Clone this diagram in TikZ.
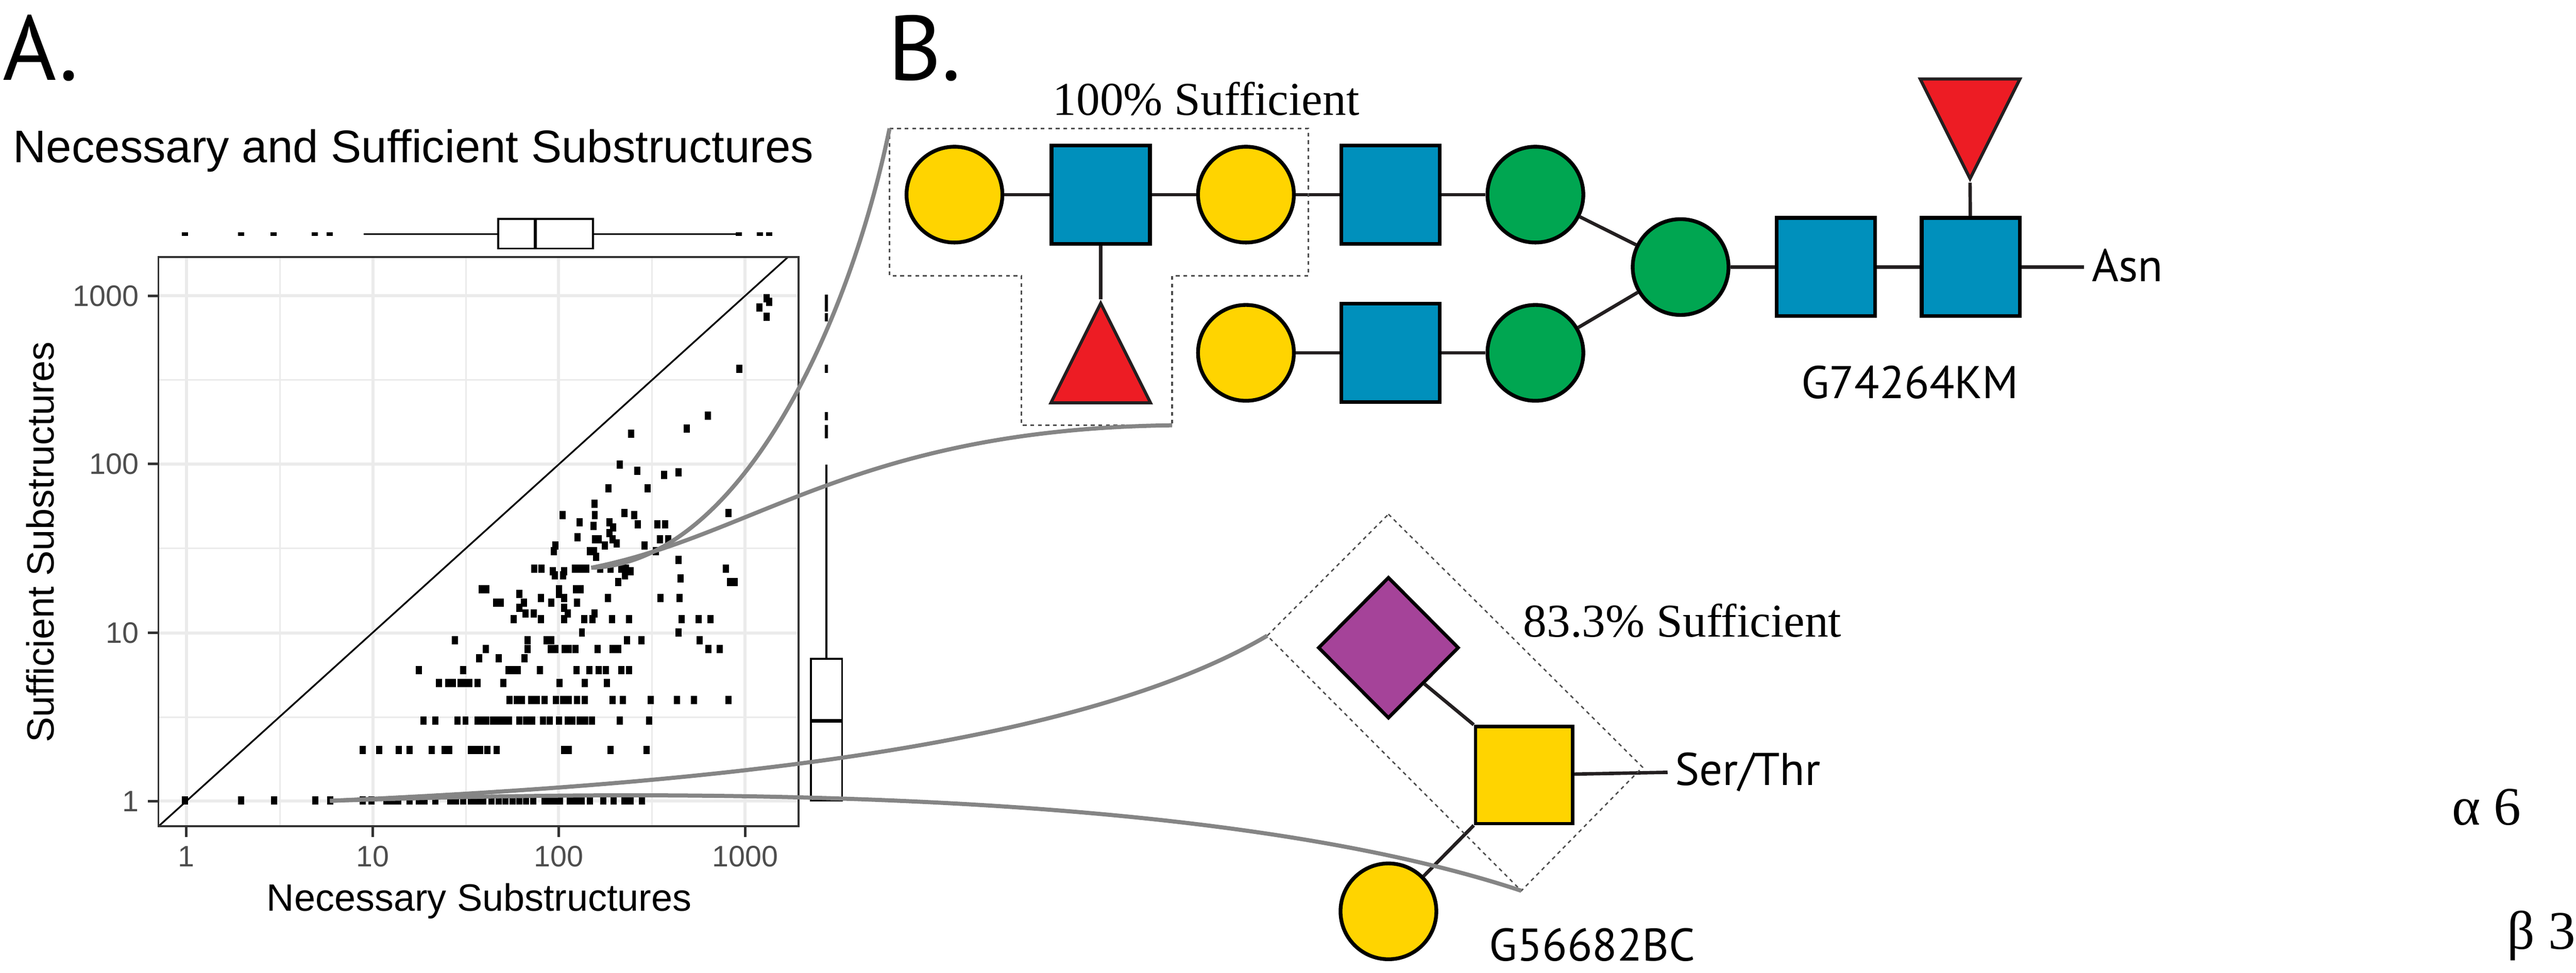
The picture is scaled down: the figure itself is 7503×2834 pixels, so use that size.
\documentclass[tikz,border=0pt]{standalone}
\usepackage{fontspec}
\setmainfont{Liberation Serif}
\newfontfamily\plotfont{Liberation Sans}
\newfontfamily\glyfont{PT Sans}
\usetikzlibrary{shapes.geometric}
\definecolor{glyyellow}{HTML}{FFD400}
\definecolor{glyblue}{HTML}{0090BC}
\definecolor{glygreen}{HTML}{00A651}
\definecolor{glyred}{HTML}{ED1C24}
\definecolor{glypurple}{HTML}{A54399}
\definecolor{glyline}{HTML}{231F20}
\definecolor{gridgray}{HTML}{EBEBEB}
\definecolor{panelgray}{HTML}{333333}
\definecolor{ticktext}{HTML}{4D4D4D}
\definecolor{zoomgray}{HTML}{858585}
\tikzset{
	x=0.01cm, y=-0.01cm,
	residue/.style={draw=black, line width=0.11cm, inner sep=0pt},
	gal/.style={residue, circle, fill=glyyellow, minimum size=2.79cm},
	man/.style={residue, circle, fill=glygreen, minimum size=2.79cm},
	glcnac/.style={residue, rectangle, fill=glyblue, minimum size=2.86cm},
	galnac/.style={residue, rectangle, fill=glyyellow, minimum size=2.83cm, line width=0.1cm},
	neuac/.style={residue, diamond, fill=glypurple, minimum width=4.1cm, minimum height=4.12cm, line width=0.1cm},
	fuc/.style={residue, draw=glyline, isosceles triangle, isosceles triangle stretches, fill=glyred, minimum width=2.9cm, minimum height=2.9cm, line width=0.09cm},
	bond/.style={line width=0.1cm, draw=glyline},
	subframe/.style={draw=ticktext, line width=0.05cm, dash pattern=on 0.11cm off 0.11cm},
	zoomcurve/.style={draw=zoomgray, line width=0.12cm},
	boxline/.style={draw=black, line width=0.05cm},
	gridmajor/.style={draw=gridgray, line width=0.09cm},
	gridminor/.style={draw=gridgray, line width=0.045cm},
	axistick/.style={draw=panelgray, line width=0.075cm},
	ticklabel/.style={inner sep=0pt, text=ticktext, font=\plotfont\fontsize{24.5pt}{24.5pt}\selectfont},
	axislabel/.style={inner sep=0pt, font=\plotfont\fontsize{31.5pt}{31.5pt}\selectfont},
	panellabel/.style={inner sep=0pt, anchor=base west, font=\glyfont\fontsize{76pt}{76pt}\selectfont},
	glylabel/.style={inner sep=0pt, anchor=base west, font=\glyfont\fontsize{38pt}{38pt}\selectfont},
	suflabel/.style={inner sep=0pt, anchor=base west, font=\fontsize{39pt}{39pt}\selectfont},
	linklabel/.style={inner sep=0pt, anchor=base west, font=\fontsize{45pt}{45pt}\selectfont}
}

\begin{document}
\begin{tikzpicture}
	\useasboundingbox (0,0) rectangle (7503,2834);

	%%%%% scatter panel %%%%%
	\foreach \gx in {815,1357,1899} \draw[gridminor] (\gx,749) -- (\gx,2407);
	\foreach \gy in {1107,1598,2089} \draw[gridminor] (461,\gy) -- (2326,\gy);
	\foreach \gx in {543,1086,1627,2170} \draw[gridmajor] (\gx,749) -- (\gx,2407);
	\foreach \gy in {862,1352,1844,2334} \draw[gridmajor] (461,\gy) -- (2326,\gy);

	\begin{scope}[shift={(400,700)},x=0.01339cm,y=-0.01084cm]
		\foreach \py/\pxs in {
			1506/{104,226,297,387,419,490,509,541,553,567,592,612,624,648,680,692,708,725,738,752,770,785,800,815,830,845,860,885,897,910,918,940,952,965,983,1012,1035,1058,1072,1096},
			1370/{490,526,568,592,640,668,678,725,735,745,761,781,927,937,1028,1106},
			1291/{622,648,696,713,739,750,758,773,785,795,808,830,845,858,882,896,916,935,945,961,973,988,1048,1112},
			1235/{809,824,836,856,868,885,909,925,938,955,972,1033,1055,1115,1173,1210,1285},
			1190/{655,676,686,702,712,721,739,795,917,972,1020},
			1155/{612,708,806,815,827,875,954,982,1002,1018,1052,1068},
			1124/{743,785,841},
			1099/{757,848,898,908,928,938,952,1000,1033,1045,1241,1265},
			1075/{690,848,889,899,1064,1095,1222},
			1054/{966,1176},
			1018/{818,877,927,971,989,1031,1068,1183,1220,1245},
			1003/{843,861,935,993},
			988/{830,927},
			974/{780,790,840,899,955},
			962/{877,927,1023,1137,1178},
			950/{830,916},
			938/{748,758,916,953,963},
			918/{1045,1288,1298},
			909/{1180},
			900/{907,925,1060},
			890/{903,927,1072},
			882/{862,878,951,963,976,1006,1028,1052,1062,1279},
			859/{1176},
			851/{997},
			835/{905,983,992,1127},
			820/{908,1016,1102},
			815/{1042},
			804/{1033,995,1002,1136,1153},
			798/{956},
			787/{1026},
			772/{1034},
			768/{991},
			763/{1087,1130,1147},
			758/{961,1026},
			738/{924,994,1080},
			733/{1058,1285},
			708/{993},
			666/{1024,1109},
			630/{1145},
			624/{1176},
			620/{1086},
			603/{1048},
			520/{1073},
			506/{1194},
			471/{1240},
			345/{1308},
			206/{1367},
			181/{1352},
			165/{1373},
			156/{1367}}
			\foreach \px in \pxs
				\fill ({\px-6.7},{\py-11}) rectangle ++(13.4,22);
	\end{scope}

	\draw[line width=0.05cm] (462,2407) -- (2295,749);

	\foreach \tx/\tlab in {543/1,1086/10,1627/100,2170/1000}{
		\draw[axistick] (\tx,2407) -- (\tx,2438);
		\node[ticklabel, anchor=base] (xtick\tlab) at (\tx,2524) {\tlab};
	}
	\foreach \ty/\tlab in {862/1000,1352/100,1844/10,2334/1}{
		\draw[axistick] (430,\ty) -- (461,\ty);
		\node[ticklabel, anchor=east] (ytick\tlab) at (405,\ty) {\tlab};
	}
	\draw[draw=panelgray, line width=0.05cm] (461,749) rectangle (2326,2407);

	\node[axislabel, anchor=base] (xtitle) at (1396,2654) {Necessary Substructures};
	\node[axislabel, anchor=base, rotate=90] (ytitle) at (157,1579) {Sufficient Substructures};
	\node[inner sep=0pt, anchor=base west, font=\plotfont\fontsize{37.9pt}{37.9pt}\selectfont] (plottitle) at (38,474) {Necessary and Sufficient Substructures};

	%%%%% marginal boxplots %%%%%
	\draw[boxline] (1060,682) -- (1451,682);
	\draw[boxline] (1727,682) -- (2144,682);
	\draw[boxline] (1451,638) rectangle (1727,724);
	\draw[line width=0.1cm] (1559,638) -- (1559,724);
	\foreach \ox in {539,703,797,917,960,2152,2213,2240}
		\fill ({\ox-9},677) rectangle ++(18,10);

	\draw[boxline] (2407,1354) -- (2407,2333);
	\draw[boxline, fill=white] (2362,1919) rectangle (2453,2333);
	\draw[line width=0.1cm] (2362,2100) -- (2453,2100);
	\foreach \oa/\ob in {858/908,912/936,1062/1087,1200/1224,1238/1277}
		\fill (2403,\oa) rectangle (2411,\ob);

	%%%%% glycan one %%%%%
	\node[gal] (g1) at (2780,567) {};
	\node[glcnac] (n1) at (3206,567) {};
	\node[gal] (g2) at (3629,567) {};
	\node[glcnac] (n2) at (4050,567) {};
	\node[man] (m1) at (4472,567) {};
	\node[fuc, shape border rotate=90] (f1) at (3206,1084) {};
	\node[gal] (g3) at (3629,1028) {};
	\node[glcnac] (n3) at (4050,1028) {};
	\node[man] (m2) at (4472,1028) {};
	\node[man] (m3) at (4895,778) {};
	\node[glcnac] (n4) at (5318,778) {};
	\node[glcnac] (n5) at (5740,778) {};
	\node[fuc, shape border rotate=270] (f2) at (5738,320) {};
	\coordinate (asnend) at (6070,778);

	\draw[bond] (g1) -- (n1);
	\draw[bond] (n1) -- (g2);
	\draw[bond] (g2) -- (n2);
	\draw[bond] (n2) -- (m1);
	\draw[bond] (n1) -- (f1.apex);
	\draw[bond] (g3) -- (n3);
	\draw[bond] (n3) -- (m2);
	\draw[bond] (m1) -- (m3);
	\draw[bond] (m2) -- (m3);
	\draw[bond] (m3) -- (n4);
	\draw[bond] (n4) -- (n5);
	\draw[bond] (n5) -- (f2.apex);
	\draw[bond] (n5) -- (asnend);

	\node[glylabel] (asn) at (6092,820) {Asn};
	\node[glylabel] (gid1) at (5246,1160) {G74264KM};
	\node[suflabel] (suf1) at (3066,336) {100\% Sufficient};

	\coordinate (fr1a) at (2591,374);
	\coordinate (fr1b) at (3414,1239);
	\draw[subframe] (fr1a) -- (3811,374) -- (3811,804) -- (3414,804) -- (fr1b) -- (2975,1239) -- (2975,804) -- (2591,804) -- cycle;

	%%%%% glycan two %%%%%
	\node[neuac] (s1) at (4044,1887) {};
	\node[galnac] (t1) at (4439,2258) {};
	\node[gal] (g4) at (4044,2655) {};
	\coordinate (serend) at (4857,2250);

	\draw[bond] (s1.south east) -- (t1.north west);
	\draw[bond] (t1.south west) -- (g4.45);
	\draw[bond] (t1) -- (serend);

	\node[glylabel] (ser) at (4878,2288) {Ser/Thr};
	\node[glylabel] (gid2) at (4337,2800) {G56682BC};
	\node[suflabel] (suf2) at (4436,1856) {83.3\% Sufficient};

	\coordinate (fr2a) at (3691,1852);
	\coordinate (fr2b) at (4431,2595);
	\draw[subframe, line width=0.04cm] (4044,1498) -- (4784,2235) -- (fr2b) -- (fr2a) -- cycle;

	%%%%% zoom curves %%%%%
	\coordinate (cloud) at (1722,1654);
	\coordinate (base) at (961,2333);
	\draw[zoomcurve] (cloud) .. controls (2150,1640) and (2470,960) .. (fr1a);
	\draw[zoomcurve] (cloud) .. controls (2200,1560) and (2500,1250) .. (fr1b);
	\draw[zoomcurve] (base) .. controls (1900,2290) and (3100,2200) .. (fr2a);
	\draw[zoomcurve] (base) .. controls (2200,2290) and (3600,2320) .. (fr2b);

	%%%%% panel letters and linkages %%%%%
	\node[panellabel] (pa) at (8,233) {A.};
	\node[panellabel] (pb) at (2585,234) {B.};
	\node[linklabel] (link1) at (7141,2403) {α 6};
	\node[linklabel] (link2) at (7302,2765) {β 3};
\end{tikzpicture}
\end{document}
